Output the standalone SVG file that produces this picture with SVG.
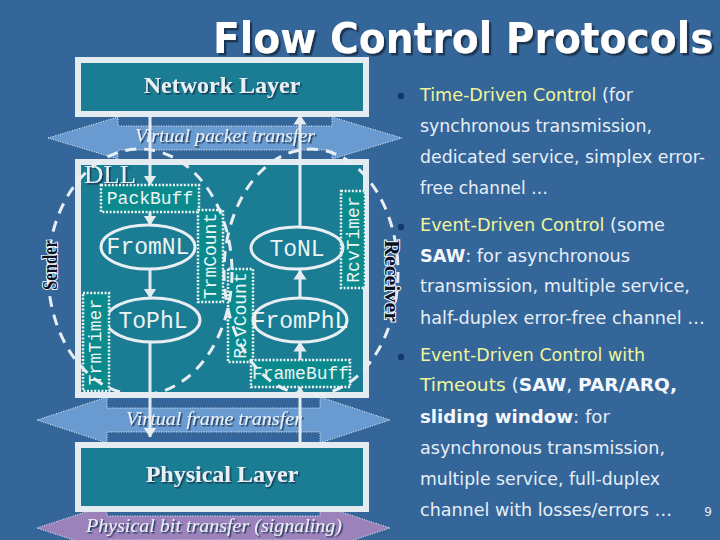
<svg xmlns="http://www.w3.org/2000/svg" width="720" height="540" viewBox="0 0 720 540">
<defs>
<filter id="sh" x="-10%" y="-30%" width="130%" height="170%"><feDropShadow dx="1.5" dy="1.5" stdDeviation="0.4" flood-color="#17304f" flood-opacity="0.9"/></filter>
<filter id="tsh" x="-5%" y="-20%" width="115%" height="150%"><feDropShadow dx="2.5" dy="2.5" stdDeviation="0.6" flood-color="#1b3453" flood-opacity="1"/></filter>
<marker id="ah" markerUnits="userSpaceOnUse" markerWidth="10" markerHeight="14" refX="9.5" refY="7" orient="auto" viewBox="0 0 10 14"><path d="M0,0.5 L10,7 L0,13.5 Z" fill="#e4ecf2"/></marker>
<style>
.layer{fill:#1a7d94;stroke:#e4ecf2;stroke-width:6}
.ltxt{font-family:"Liberation Serif",serif;font-weight:bold;font-size:24px;fill:#e8f0f4;text-anchor:middle}
.xfer{stroke:#eef4fa;stroke-width:1;stroke-dasharray:1 1.5}
.xtxt{font-family:"Liberation Serif",serif;font-style:italic;font-size:19px;fill:#e9f0f8;text-anchor:middle}
.lbl{fill:#0a8a8c;stroke:#eef4f6;stroke-width:2.5;stroke-dasharray:2 1.6}
.mono{font-family:"Liberation Mono",monospace;fill:#eef4f6;text-anchor:middle}
.m18{font-size:18px}
.m23{font-size:23px}
.proc{fill:none;stroke:#e8eef4;stroke-width:3}
.conn{stroke:#e4ecf2;stroke-width:3;fill:none;marker-end:url(#ah)}
.role{fill:none;stroke:#e8eef4;stroke-width:3;stroke-dasharray:11 8}
.side{font-family:"Liberation Serif",serif;font-weight:bold;fill:#0b1022;stroke:#f2f6fa;stroke-width:2;paint-order:stroke;text-anchor:middle}
.body{font-family:"DejaVu Sans",sans-serif;font-size:18.5px;fill:#e6eef8}
.hi{fill:#f0f59a}
.b{font-weight:bold;fill:#f4f8fc}
.bul{fill:#123a6b}
</style>
</defs>
<rect x="0" y="0" width="720" height="540" fill="#356699"/>

<g id="title">
<text transform="translate(213,53) scale(0.934,1)" font-family="'DejaVu Sans',sans-serif" font-weight="bold" font-size="42" fill="#ffffff" filter="url(#tsh)">Flow Control Protocols</text>
</g>

<g id="virtual-packet-transfer">
<polygon class="xfer" fill="#6a9bd0" points="48,138 118,117 118,126 332,126 332,117 402,138 332,159 332,150 118,150 118,159"/>
<text class="xtxt" x="225" y="142" textLength="180" lengthAdjust="spacingAndGlyphs" filter="url(#sh)">Virtual packet transfer</text>
</g>
<g id="virtual-frame-transfer">
<polygon class="xfer" fill="#6a9bd0" points="37,420 107,397 107,408 320,408 320,397 390,420 320,443 320,432 107,432 107,443"/>
<text class="xtxt" x="214" y="425" textLength="176" lengthAdjust="spacingAndGlyphs" filter="url(#sh)">Virtual frame transfer</text>
</g>
<g id="physical-bit-transfer">
<polygon class="xfer" fill="#9c82bb" points="37,528 107,505 107,516 320,516 320,505 390,528 320,551 320,540 107,540 107,551"/>
<text class="xtxt" x="214" y="532" textLength="256" lengthAdjust="spacingAndGlyphs" filter="url(#sh)">Physical bit transfer (signaling)</text>
</g>

<g id="network-layer">
<rect class="layer" x="78" y="60" width="288" height="54"/>
<text class="ltxt" x="222" y="93" filter="url(#sh)">Network Layer</text>
</g>
<g id="dll">
<rect class="layer" x="78" y="162" width="288" height="233"/>
<text x="84" y="183" font-family="'Liberation Serif',serif" font-size="26" fill="#e8f0f4" textLength="52" lengthAdjust="spacingAndGlyphs" filter="url(#sh)">DLL</text>
</g>
<g id="physical-layer">
<rect class="layer" x="78" y="445" width="288" height="64"/>
<text class="ltxt" x="222" y="482" filter="url(#sh)">Physical Layer</text>
</g>

<g id="packbuff">
<rect class="lbl" x="101" y="185" width="98" height="27"/>
<text class="mono m18" x="150" y="204">PackBuff</text>
</g>
<g id="fromnl">
<ellipse class="proc" cx="148" cy="247" rx="47" ry="22"/>
<text class="mono m23" x="148" y="254">FromNL</text>
</g>
<g id="tophl">
<ellipse class="proc" cx="153" cy="320" rx="47" ry="22"/>
<text class="mono m23" x="153" y="328">ToPhL</text>
</g>
<g id="trmtimer">
<rect class="lbl" x="83" y="293" width="26" height="98"/>
<text class="mono m18" transform="translate(101,342) rotate(-90)">TrmTimer</text>
</g>
<g id="trmcount">
<rect class="lbl" x="198" y="210" width="25" height="92"/>
<text class="mono m18" transform="translate(216,256) rotate(-90)">TrmCount</text>
</g>
<g id="rcvcount">
<rect class="lbl" x="228" y="269" width="25" height="93"/>
<text class="mono m18" transform="translate(246,315.5) rotate(-90)">RcvCount</text>
</g>
<g id="rcvtimer">
<rect class="lbl" x="341" y="191" width="24" height="97"/>
<text class="mono m18" transform="translate(358.5,239.5) rotate(-90)">RcvTimer</text>
</g>
<g id="tonl">
<ellipse class="proc" cx="297" cy="248" rx="46" ry="21"/>
<text class="mono m23" x="297" y="256">ToNL</text>
</g>
<g id="fromphl">
<ellipse class="proc" cx="300" cy="320" rx="47" ry="22"/>
<text class="mono m23" x="300" y="328">FromPhL</text>
</g>
<g id="framebuff">
<rect class="lbl" x="251" y="360" width="99" height="27"/>
<text class="mono m18" x="300.5" y="379">FrameBuff</text>
</g>

<g id="connectors">
<line class="conn" x1="150" y1="117" x2="150" y2="185"/>
<line class="conn" x1="150" y1="212" x2="150" y2="225"/>
<line class="conn" x1="150" y1="269" x2="150" y2="298"/>
<line class="conn" x1="150" y1="342" x2="150" y2="437"/>
<line class="conn" x1="300" y1="445" x2="300" y2="387"/>
<line class="conn" x1="300" y1="360" x2="300" y2="342"/>
<line class="conn" x1="300" y1="298" x2="300" y2="270"/>
<line class="conn" x1="300" y1="227" x2="300" y2="115"/>
</g>

<g id="sender">
<ellipse class="role" cx="140" cy="272" rx="92" ry="123"/>
<text class="side" font-size="20" transform="translate(57,265) rotate(-90)" textLength="50" lengthAdjust="spacingAndGlyphs">Sender</text>
</g>
<g id="receiver">
<ellipse class="role" cx="311" cy="272" rx="87" ry="123"/>
<text class="side" font-size="22" transform="translate(385,281) rotate(90)" textLength="82" lengthAdjust="spacingAndGlyphs">Receiver</text>
</g>

<g id="bullets">
<circle class="bul" cx="401" cy="96" r="3.2"/>
<circle class="bul" cx="401" cy="227" r="3.2"/>
<circle class="bul" cx="401" cy="357" r="3.2"/>
<g transform="translate(420,0) scale(0.94,1)">
<text class="body" x="0" y="101" textLength="226.6" lengthAdjust="spacingAndGlyphs"><tspan class="hi">Time-Driven Control</tspan> (for</text>
<text class="body" x="0" y="132" textLength="246.8" lengthAdjust="spacingAndGlyphs">synchronous transmission,</text>
<text class="body" x="0" y="163" textLength="303.2" lengthAdjust="spacingAndGlyphs">dedicated service, simplex error-</text>
<text class="body" x="0" y="194" textLength="136.2" lengthAdjust="spacingAndGlyphs">free channel …</text>
<text class="body" x="0" y="231" textLength="260.6" lengthAdjust="spacingAndGlyphs"><tspan class="hi">Event-Driven Control</tspan> (some</text>
<text class="body" x="0" y="262" textLength="223.4" lengthAdjust="spacingAndGlyphs"><tspan class="b">SAW</tspan>: for asynchronous</text>
<text class="body" x="0" y="292" textLength="287.2" lengthAdjust="spacingAndGlyphs">transmission, multiple service,</text>
<text class="body" x="0" y="324" textLength="303.2" lengthAdjust="spacingAndGlyphs">half-duplex error-free channel …</text>
<text class="body" x="0" y="361" textLength="239.4" lengthAdjust="spacingAndGlyphs"><tspan class="hi">Event-Driven Control with</tspan></text>
<text class="body" x="0" y="391" textLength="273.4" lengthAdjust="spacingAndGlyphs"><tspan class="hi">Timeouts</tspan> (<tspan class="b">SAW</tspan>, <tspan class="b">PAR/ARQ,</tspan></text>
<text class="body" x="0" y="423" textLength="202.1" lengthAdjust="spacingAndGlyphs"><tspan class="b">sliding window</tspan>: for</text>
<text class="body" x="0" y="454" textLength="260.6" lengthAdjust="spacingAndGlyphs">asynchronous transmission,</text>
<text class="body" x="0" y="485" textLength="255.3" lengthAdjust="spacingAndGlyphs">multiple service, full-duplex</text>
<text class="body" x="0" y="516" textLength="268.1" lengthAdjust="spacingAndGlyphs">channel with losses/errors …</text>
</g>
<text x="708" y="516" font-family="'DejaVu Sans',sans-serif" font-size="12" fill="#e6eef8" text-anchor="middle">9</text>
</g>
</svg>
